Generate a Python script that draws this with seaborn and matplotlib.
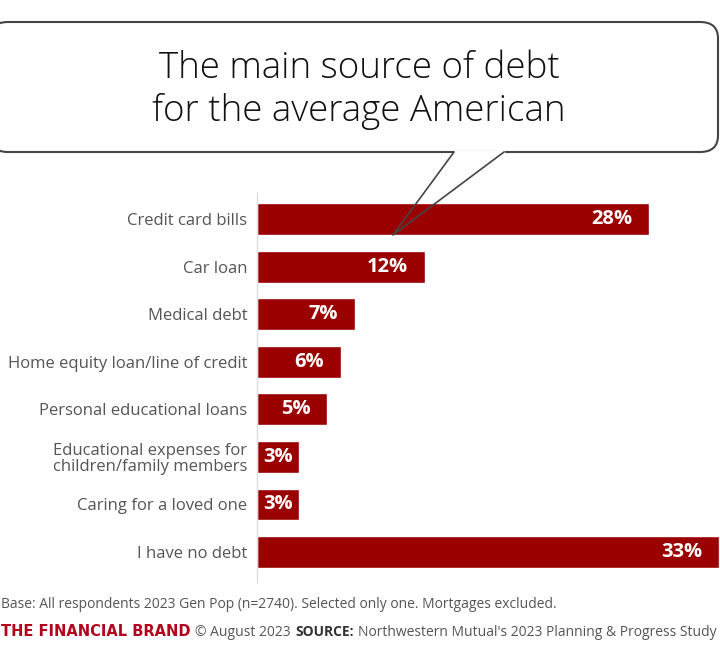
import matplotlib
matplotlib.use("Agg")
import matplotlib.pyplot as plt
import seaborn as sns
import pandas as pd
from matplotlib.patches import FancyBboxPatch
from matplotlib.lines import Line2D

categories = [
    "Credit card bills",
    "Car loan",
    "Medical debt",
    "Home equity loan/line of credit",
    "Personal educational loans",
    "Educational expenses for\nchildren/family members",
    "Caring for a loved one",
    "I have no debt",
]
shares = [28, 12, 7, 6, 5, 3, 3, 33]
value_labels = ["28%", "12%", "7%", "6%", "5%", "3%", "3%", "33%"]

title = "The main source of debt\nfor the average American"
base_note = "Base: All respondents 2023 Gen Pop (n=2740). Selected only one. Mortgages excluded."

RED = "#9b0000"
GREY = "#555555"

sns.set_theme(style="white")
plt.rcParams["font.family"] = ["Open Sans", "DejaVu Sans"]

df = pd.DataFrame({"category": categories, "share": shares})

W, H = 720, 655
fig = plt.figure(figsize=(7.2, 6.55), dpi=100)
ax = fig.add_axes([257 / W, 1 - 582 / H, 462 / W, 389 / H])

sns.barplot(data=df, x="share", y="category", color=RED, saturation=1,
            width=0.67, orient="h", ax=ax)

ax.set_xlim(0, 33)
ax.set_ylim(7.63, -0.55)
ax.set_xlabel("")
ax.set_ylabel("")
ax.set_xticks([])
sns.despine(ax=ax, left=False, bottom=True, top=True, right=True)
ax.spines["left"].set_color("#dddddd")
ax.spines["left"].set_linewidth(1)
ax.tick_params(axis="y", length=0, pad=7, labelsize=12, labelcolor=GREY)
for t in ax.get_yticklabels():
    t.set_linespacing(1.0)

# value labels inside the bars
for i, (v, lab) in enumerate(zip(shares, value_labels)):
    if v >= 5:
        ax.annotate(lab, xy=(v, i), xytext=(-12, 0), textcoords="offset points",
                    ha="right", va="center", color="white", fontsize=14.5,
                    fontweight="bold")
    else:
        ax.text(v / 2, i, lab, ha="center", va="center", color="white",
                fontsize=14.5, fontweight="bold")

# speech bubble
def fx(px):
    return px / W

def fy(py):
    return 1 - py / H

bubble = FancyBboxPatch((fx(-10), fy(152)), fx(728), 130 / H,
                        boxstyle="round,pad=0,rounding_size=0.025",
                        transform=fig.transFigure, facecolor="white",
                        edgecolor="#444444", linewidth=1.5, zorder=5)
fig.patches.append(bubble)
fig.add_artist(Line2D([fx(455), fx(503)], [fy(152), fy(152)], color="white",
                      linewidth=2.5, transform=fig.transFigure, zorder=6))
fig.add_artist(Line2D([fx(454), fx(393), fx(504)],
                      [fy(152), fy(235), fy(152)], color="#444444",
                      linewidth=1.2, transform=fig.transFigure, zorder=7))

fig.text(fx(359), fy(90), title, ha="center", va="center", fontsize=26.5,
         fontweight="light", color="#111111", linespacing=1.2, zorder=8)

# footer
fig.text(fx(1), fy(605), base_note, ha="left", va="center", fontsize=10,
         color=GREY)

renderer = fig.canvas.get_renderer()
parts = [
    ("THE FINANCIAL BRAND", "#b3001b", "bold", 10.5, 0, "DejaVu Sans"),
    ("\u00a9 August 2023", GREY, "normal", 10, 5, "Open Sans"),
    ("SOURCE:", "#333333", "bold", 10, 4, "Open Sans"),
    ("Northwestern Mutual's 2023 Planning & Progress Study", GREY, "normal",
     10, 4, "Open Sans"),
]
x = fx(1)
for txt, col, wt, size, gap, fam in parts:
    x += gap / W
    t = fig.text(x, fy(632), txt, ha="left", va="center", fontsize=size,
                 color=col, fontweight=wt, family=fam)
    bb = t.get_window_extent(renderer=renderer)
    x += bb.width / W

fig.savefig("out.png", dpi=100)
